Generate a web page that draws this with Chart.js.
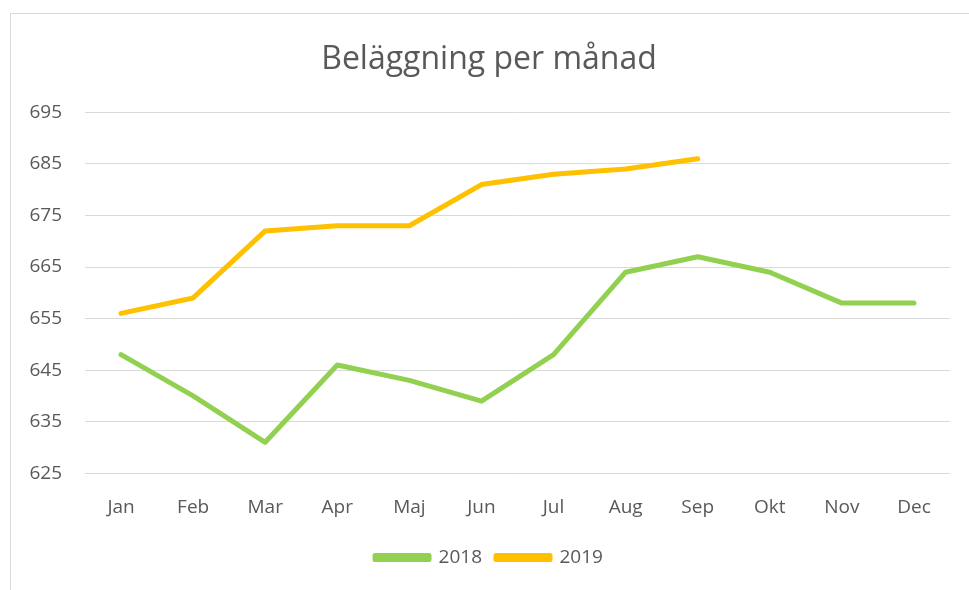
<!DOCTYPE html>
<html>
<head>
<meta charset="utf-8">
<script src="https://cdn.jsdelivr.net/npm/chart.js@4.4.1/dist/chart.umd.min.js"></script>
<style>
  html, body { margin: 0; padding: 0; background: #fff; }
  #wrap { position: relative; width: 969px; height: 590px; overflow: hidden; }
  #frame { position: absolute; left: 10px; top: 13px; width: 980px; height: 600px; border: 1px solid #d9d9d9; box-sizing: border-box; }
  #beleggning { position: absolute; left: 0; top: 0; }
</style>
</head>
<body>
<div id="wrap">
  <div id="frame"></div>
  <canvas id="beleggning" width="969" height="590"></canvas>
</div>
<script>
const months = ['Jan', 'Feb', 'Mar', 'Apr', 'Maj', 'Jun', 'Jul', 'Aug', 'Sep', 'Okt', 'Nov', 'Dec'];
const values2018 = [648, 640, 631, 646, 643, 639, 648, 664, 667, 664, 658, 658];
const values2019 = [656, 659, 672, 673, 673, 681, 683, 684, 686, null, null, null];
const yMin = 625;
const yMax = 695;
const yStep = 10;

const textGrey = '#595959';
const fontFamily = '"Open Sans", "Noto Sans", sans-serif';

window.addEventListener('load', () => {
    const ctx = document.getElementById('beleggning').getContext('2d');
    new Chart(ctx, {
        type: 'line',
        data: {
            labels: months,
            datasets: [
                {
                    label: '2018',
                    data: values2018,
                    borderColor: '#92d050',
                    backgroundColor: '#92d050',
                    borderWidth: 5,
                    borderCapStyle: 'round',
                    borderJoinStyle: 'round',
                    pointRadius: 0,
                    tension: 0
                },
                {
                    label: '2019',
                    data: values2019,
                    borderColor: '#ffc000',
                    backgroundColor: '#ffc000',
                    borderWidth: 5,
                    borderCapStyle: 'round',
                    borderJoinStyle: 'round',
                    pointRadius: 0,
                    tension: 0
                }
            ]
        },
        options: {
            responsive: false,
            animation: false,
            layout: { padding: { left: 28, right: 19, top: 0, bottom: 13 } },
            plugins: {
                title: {
                    display: true,
                    text: 'Beläggning per månad',
                    color: textGrey,
                    font: { family: fontFamily, size: 32, weight: 'normal' },
                    padding: { top: 41, bottom: 33 }
                },
                legend: {
                    position: 'bottom',
                    labels: {
                        color: textGrey,
                        font: { family: fontFamily, size: 19 },
                        boxWidth: 54,
                        boxHeight: 4,
                        padding: 14
                    }
                },
                tooltip: { enabled: false }
            },
            scales: {
                x: {
                    offset: true,
                    grid: { display: false },
                    border: { display: false },
                    ticks: {
                        color: textGrey,
                        font: { family: fontFamily, size: 19 },
                        padding: 15,
                        maxRotation: 0
                    }
                },
                y: {
                    min: yMin,
                    max: yMax,
                    grid: { color: '#d9d9d9', lineWidth: 1, drawTicks: false },
                    border: { display: false },
                    ticks: {
                        stepSize: yStep,
                        color: textGrey,
                        font: { family: fontFamily, size: 19 },
                        padding: 23
                    },
                    afterFit: (scale) => { scale.width = 57; }
                }
            }
        }
    });
});
</script>
</body>
</html>
